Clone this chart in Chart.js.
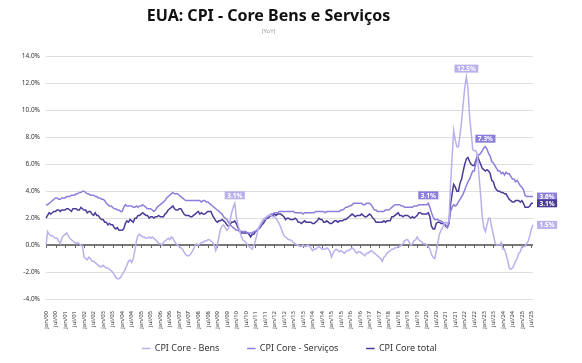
<!DOCTYPE html>
<html>
<head>
<meta charset="utf-8">
<script src="https://cdn.jsdelivr.net/npm/chart.js@4.4.1/dist/chart.umd.min.js"></script>
<style>
  html, body { margin: 0; padding: 0; background: #fff; }
  #wrap { width: 582px; height: 363px; }
</style>
</head>
<body>
<div id="wrap"><canvas id="myChart"></canvas></div>
<script>
// Monthly data, jan/2000 - ago/2025 (YoY, %)
const firstYear = 2000;
const monthNames = ['jan', 'fev', 'mar', 'abr', 'mai', 'jun', 'jul', 'ago', 'set', 'out', 'nov', 'dez'];

const coreGoods = [
    0.0, 1.0, 0.8, 0.7, 0.7, 0.6, 0.5, 0.5, 0.3, 0.1, 0.5, 0.7,        // 2000
    0.8, 0.9, 0.7, 0.5, 0.4, 0.3, 0.2, 0.1, 0.2, 0.1, 0.0, -0.1,       // 2001
    -0.9, -1.0, -1.1, -0.9, -1.0, -1.2, -1.2, -1.3, -1.4, -1.5, -1.6, -1.6, // 2002
    -1.5, -1.6, -1.7, -1.7, -1.8, -1.9, -2.0, -2.2, -2.4, -2.5, -2.5, -2.4, // 2003
    -2.2, -2.0, -1.8, -1.5, -1.2, -1.1, -1.3, -1.0, -0.4, 0.3, 0.7, 0.8,    // 2004
    0.7, 0.6, 0.6, 0.5, 0.5, 0.6, 0.5, 0.6, 0.5, 0.4, 0.3, 0.1,        // 2005
    0.1, 0.0, 0.2, 0.3, 0.4, 0.5, 0.4, 0.6, 0.5, 0.3, 0.1, 0.0,        // 2006
    -0.1, -0.2, -0.3, -0.5, -0.7, -0.8, -0.8, -0.7, -0.5, -0.3, 0.0, 0.1, // 2007
    0.0, 0.1, 0.2, 0.2, 0.3, 0.3, 0.4, 0.4, 0.3, 0.2, 0.0, -0.4,       // 2008
    0.0, 0.6, 1.2, 1.4, 1.5, 1.3, 1.1, 1.2, 1.8, 2.4, 2.8, 3.1,        // 2009
    2.1, 1.5, 1.1, 0.7, 0.4, 0.3, 0.2, 0.0, -0.1, -0.2, -0.3, 0.0,     // 2010
    0.3, 0.8, 1.3, 1.5, 1.7, 1.9, 2.0, 2.1, 2.2, 2.2, 2.2, 2.1,        // 2011
    2.1, 2.0, 1.8, 1.6, 1.3, 1.0, 0.7, 0.6, 0.5, 0.4, 0.4, 0.3,        // 2012
    0.2, 0.1, 0.0, 0.0, -0.1, -0.1, 0.0, -0.1, -0.1, 0.0, -0.1, -0.2,  // 2013
    -0.4, -0.3, -0.3, -0.2, -0.1, -0.2, -0.3, -0.3, -0.3, -0.2, -0.3, -0.5, // 2014
    -0.9, -0.6, -0.4, -0.3, -0.4, -0.5, -0.4, -0.5, -0.6, -0.5, -0.4, -0.4, // 2015
    -0.3, -0.2, -0.3, -0.5, -0.6, -0.5, -0.5, -0.6, -0.7, -0.8, -0.6, -0.6, // 2016
    -0.5, -0.4, -0.5, -0.6, -0.7, -0.8, -0.9, -1.0, -1.2, -0.9, -0.8, -0.6, // 2017
    -0.5, -0.4, -0.3, -0.3, -0.2, -0.2, -0.1, -0.1, 0.0, 0.1, 0.3, 0.4,     // 2018
    0.4, 0.2, 0.0, 0.1, 0.3, 0.4, 0.6, 0.4, 0.3, 0.2, 0.1, 0.1,        // 2019
    0.0, -0.1, -0.3, -0.7, -0.9, -1.0, -0.5, 0.2, 0.8, 1.1, 1.3, 1.6,  // 2020
    1.7, 1.6, 1.8, 4.4, 6.5, 8.5, 7.8, 7.3, 7.3, 8.2, 9.2, 10.5,       // 2021
    11.7, 12.5, 11.6, 9.6, 8.4, 7.1, 7.0, 7.0, 6.6, 5.1, 3.7, 2.1,     // 2022
    1.3, 1.0, 1.5, 2.0, 2.0, 1.3, 0.8, 0.2, 0.0, 0.0, 0.0, 0.2,        // 2023
    -0.3, -0.3, -0.7, -1.1, -1.7, -1.8, -1.7, -1.5, -1.2, -1.0, -0.6, -0.5, // 2024
    -0.1, -0.1, -0.1, 0.1, 0.3, 0.7, 1.2, 1.5                          // 2025
];

const coreServices = [
    3.0, 3.0, 3.1, 3.2, 3.3, 3.4, 3.5, 3.5, 3.4, 3.4, 3.5, 3.5,  // 2000
    3.5, 3.6, 3.6, 3.6, 3.7, 3.7, 3.7, 3.8, 3.8, 3.9, 3.9, 4.0,  // 2001
    4.0, 3.9, 3.8, 3.8, 3.7, 3.7, 3.7, 3.6, 3.6, 3.5, 3.5, 3.4,  // 2002
    3.4, 3.3, 3.1, 3.0, 2.9, 2.9, 2.8, 2.7, 2.7, 2.6, 2.6, 2.5,  // 2003
    2.5, 2.8, 3.0, 2.9, 2.9, 2.9, 2.9, 2.8, 2.8, 2.9, 2.8, 2.9,  // 2004
    2.9, 3.0, 2.9, 2.8, 2.7, 2.7, 2.7, 2.6, 2.5, 2.6, 2.8, 2.9,  // 2005
    3.0, 3.1, 3.2, 3.3, 3.5, 3.6, 3.7, 3.8, 3.9, 3.8, 3.8, 3.8,  // 2006
    3.7, 3.6, 3.5, 3.4, 3.3, 3.3, 3.3, 3.3, 3.3, 3.3, 3.3, 3.3,  // 2007
    3.3, 3.3, 3.2, 3.3, 3.3, 3.2, 3.2, 3.1, 3.0, 2.9, 2.8, 2.7,  // 2008
    2.6, 2.5, 2.4, 2.3, 2.1, 2.0, 1.9, 1.7, 1.5, 1.4, 1.3, 1.2,  // 2009
    1.1, 1.1, 1.0, 1.0, 1.0, 1.0, 1.0, 0.9, 0.9, 0.9, 0.9, 1.0,  // 2010
    1.0, 1.1, 1.2, 1.4, 1.6, 1.8, 1.9, 2.0, 2.1, 2.2, 2.3, 2.3,  // 2011
    2.4, 2.4, 2.4, 2.5, 2.5, 2.5, 2.5, 2.5, 2.5, 2.5, 2.5, 2.5,  // 2012
    2.5, 2.4, 2.4, 2.4, 2.4, 2.4, 2.3, 2.4, 2.4, 2.4, 2.4, 2.4,  // 2013
    2.4, 2.4, 2.5, 2.5, 2.5, 2.5, 2.5, 2.5, 2.4, 2.5, 2.5, 2.5,  // 2014
    2.5, 2.5, 2.5, 2.5, 2.5, 2.5, 2.6, 2.6, 2.7, 2.8, 2.8, 2.9,  // 2015
    2.9, 3.0, 3.1, 3.1, 3.1, 3.1, 3.1, 3.1, 3.0, 3.0, 3.1, 3.1,  // 2016
    3.1, 3.0, 2.8, 2.6, 2.6, 2.5, 2.5, 2.5, 2.5, 2.5, 2.6, 2.6,  // 2017
    2.6, 2.7, 2.8, 2.9, 3.0, 3.0, 3.0, 3.0, 2.9, 2.9, 2.8, 2.8,  // 2018
    2.8, 2.8, 2.8, 2.8, 2.9, 2.9, 2.9, 3.0, 3.0, 3.0, 3.0, 3.0,  // 2019
    3.0, 3.1, 2.8, 2.4, 2.1, 1.9, 1.9, 1.9, 1.8, 1.8, 1.7, 1.6,  // 2020
    1.5, 1.3, 1.6, 2.5, 2.8, 3.0, 2.9, 3.0, 3.2, 3.4, 3.6, 3.8,  // 2021
    4.1, 4.4, 4.7, 4.9, 5.2, 5.5, 5.5, 6.1, 6.7, 6.7, 6.8, 7.0,  // 2022
    7.2, 7.3, 7.1, 6.8, 6.6, 6.2, 6.1, 5.9, 5.7, 5.5, 5.5, 5.3,  // 2023
    5.4, 5.2, 5.4, 5.3, 5.3, 5.1, 4.9, 4.9, 4.7, 4.8, 4.6, 4.4,  // 2024
    4.3, 4.1, 3.7, 3.6, 3.6, 3.6, 3.6, 3.6                       // 2025
];

const coreTotal = [
    2.0, 2.2, 2.4, 2.3, 2.4, 2.5, 2.5, 2.6, 2.6, 2.5, 2.6, 2.6,  // 2000
    2.6, 2.7, 2.7, 2.6, 2.5, 2.7, 2.7, 2.7, 2.6, 2.6, 2.8, 2.7,  // 2001
    2.6, 2.6, 2.4, 2.5, 2.5, 2.3, 2.2, 2.4, 2.2, 2.2, 2.0, 1.9,  // 2002
    1.9, 1.7, 1.7, 1.5, 1.6, 1.5, 1.5, 1.3, 1.2, 1.3, 1.1, 1.1,  // 2003
    1.1, 1.2, 1.6, 1.8, 1.7, 1.9, 1.8, 1.7, 2.0, 2.0, 2.2, 2.2,  // 2004
    2.3, 2.4, 2.3, 2.2, 2.2, 2.0, 2.1, 2.1, 2.0, 2.1, 2.1, 2.2,  // 2005
    2.1, 2.1, 2.1, 2.3, 2.4, 2.6, 2.7, 2.8, 2.9, 2.7, 2.6, 2.6,  // 2006
    2.7, 2.7, 2.5, 2.3, 2.2, 2.2, 2.2, 2.1, 2.1, 2.2, 2.3, 2.4,  // 2007
    2.5, 2.3, 2.4, 2.3, 2.3, 2.4, 2.5, 2.5, 2.5, 2.2, 2.0, 1.8,  // 2008
    1.7, 1.8, 1.8, 1.9, 1.8, 1.7, 1.5, 1.4, 1.5, 1.7, 1.7, 1.8,  // 2009
    1.6, 1.3, 1.1, 0.9, 0.9, 0.9, 0.9, 0.9, 0.8, 0.6, 0.8, 0.8,  // 2010
    1.0, 1.1, 1.2, 1.3, 1.5, 1.6, 1.8, 2.0, 2.0, 2.1, 2.2, 2.2,  // 2011
    2.3, 2.2, 2.3, 2.3, 2.3, 2.2, 2.1, 1.9, 2.0, 2.0, 1.9, 1.9,  // 2012
    1.9, 2.0, 1.9, 1.7, 1.7, 1.6, 1.7, 1.8, 1.7, 1.7, 1.7, 1.7,  // 2013
    1.6, 1.6, 1.7, 1.8, 2.0, 1.9, 1.9, 1.7, 1.7, 1.8, 1.7, 1.6,  // 2014
    1.6, 1.7, 1.8, 1.8, 1.7, 1.8, 1.8, 1.8, 1.9, 1.9, 2.0, 2.1,  // 2015
    2.2, 2.3, 2.2, 2.1, 2.2, 2.2, 2.2, 2.3, 2.2, 2.1, 2.1, 2.2,  // 2016
    2.3, 2.2, 2.0, 1.9, 1.7, 1.7, 1.7, 1.7, 1.7, 1.8, 1.7, 1.8,  // 2017
    1.8, 1.8, 2.1, 2.1, 2.2, 2.3, 2.4, 2.2, 2.2, 2.1, 2.2, 2.2,  // 2018
    2.2, 2.1, 2.0, 2.1, 2.0, 2.1, 2.2, 2.4, 2.4, 2.3, 2.3, 2.3,  // 2019
    2.3, 2.4, 2.1, 1.4, 1.2, 1.2, 1.6, 1.7, 1.7, 1.6, 1.6, 1.6,  // 2020
    1.4, 1.3, 1.6, 3.0, 3.8, 4.5, 4.3, 4.0, 4.0, 4.6, 4.9, 5.5,  // 2021
    6.0, 6.4, 6.5, 6.2, 6.0, 5.9, 5.9, 6.3, 6.6, 6.3, 6.0, 5.7,  // 2022
    5.6, 5.5, 5.6, 5.5, 5.3, 4.8, 4.7, 4.3, 4.1, 4.0, 4.0, 3.9,  // 2023
    3.9, 3.8, 3.8, 3.6, 3.4, 3.3, 3.2, 3.2, 3.3, 3.3, 3.3, 3.2,  // 2024
    3.3, 3.1, 2.8, 2.8, 2.8, 2.9, 3.1, 3.1                       // 2025
];

// Highlighted points (index in the monthly arrays)
const goodsMarks = [119, 265, 307];
const servicesMarks = [241, 277, 307];
const totalMarks = [307];

// y axis: -4% .. 14%
const yMin = -4, yMax = 14, yStep = 2;

// Month labels (jan/00 ...)
const labels = coreTotal.map((v, i) => {
    const y = firstYear + Math.floor(i / 12);
    return monthNames[i % 12] + '/' + String(y).slice(2);
});

const colGoods = '#b9b0ec';
const colServices = '#8c7fdb';
const colTotal = '#4a3b99';
const fontFam = "'Noto Sans', 'DejaVu Sans', sans-serif";

// Tick marks on the zero line, every 6 months
const zeroTicks = {
    id: 'zeroTicks',
    beforeDatasetsDraw(chart) {
        const x = chart.scales.x, y = chart.scales.y;
        const y0 = y.getPixelForValue(0);
        const ctx = chart.ctx;
        ctx.save();
        ctx.strokeStyle = '#666';
        ctx.lineWidth = 1;
        ctx.beginPath();
        for (let i = 0; i < labels.length; i += 6) {
            const px = Math.round(x.getPixelForValue(i)) + 0.5;
            ctx.moveTo(px, y0);
            ctx.lineTo(px, y0 + 3);
        }
        ctx.stroke();
        ctx.restore();
    }
};

// Value boxes at selected points
const valueBoxes = {
    id: 'valueBoxes',
    afterDatasetsDraw(chart) {
        const ctx = chart.ctx;
        const last = labels.length - 1;
        ctx.save();
        ctx.font = 'bold 6.5px ' + fontFam;
        ctx.textBaseline = 'middle';
        ctx.textAlign = 'center';
        chart.data.datasets.forEach((ds, di) => {
            const meta = chart.getDatasetMeta(di);
            ds.marks.forEach(idx => {
                const pt = meta.data[idx];
                const txt = ds.data[idx].toFixed(1) + '%';
                const w = ctx.measureText(txt).width + 5;
                const h = 8;
                let cx, cy;
                if (idx === last) {
                    cx = pt.x + 4 + w / 2;
                    cy = pt.y;
                } else {
                    cx = pt.x;
                    cy = pt.y - 4 - h / 2;
                }
                ctx.fillStyle = ds.borderColor;
                ctx.fillRect(cx - w / 2, cy - h / 2, w, h);
                ctx.fillStyle = '#fff';
                ctx.fillText(txt, cx, cy + 0.5);
            });
        });
        ctx.restore();
    }
};

let myChart;

function createChart() {
    const ctx = document.getElementById('myChart').getContext('2d');
    myChart = new Chart(ctx, {
        type: 'line',
        data: {
            labels: labels,
            datasets: [
                { label: 'CPI Core - Bens', data: coreGoods, marks: goodsMarks, borderColor: colGoods, backgroundColor: colGoods },
                { label: 'CPI Core - Serviços', data: coreServices, marks: servicesMarks, borderColor: colServices, backgroundColor: colServices },
                { label: 'CPI Core total', data: coreTotal, marks: totalMarks, borderColor: colTotal, backgroundColor: colTotal }
            ]
        },
        options: {
            responsive: true,
            maintainAspectRatio: false,
            animation: false,
            datasets: {
                line: { borderWidth: 1.5, pointRadius: 0, tension: 0 }
            },
            layout: { padding: { left: 4, right: 49, bottom: 0 } },
            plugins: {
                title: {
                    display: true,
                    text: 'EUA: CPI - Core Bens e Serviços',
                    color: '#111',
                    font: { family: fontFam, size: 16, weight: 'bold' },
                    padding: { top: 7, bottom: 0 }
                },
                subtitle: {
                    display: true,
                    text: '(YoY)',
                    color: '#999',
                    font: { family: fontFam, size: 6 },
                    padding: { top: 1, bottom: 22 }
                },
                legend: {
                    position: 'bottom',
                    fullSize: false,
                    labels: {
                        usePointStyle: true,
                        pointStyle: 'line',
                        boxWidth: 8,
                        boxHeight: 6,
                        color: '#333',
                        font: { family: fontFam, size: 9 },
                        padding: 10,
                        generateLabels: chart => {
                            const items = Chart.defaults.plugins.legend.labels.generateLabels(chart);
                            items.forEach((it, i) => {
                                if (i < items.length - 1) it.text = it.text + '\u2002\u2002\u2002\u2002';
                            });
                            return items;
                        }
                    }
                },
                tooltip: { enabled: false }
            },
            scales: {
                x: {
                    grid: { display: false },
                    border: { display: false },
                    afterFit: scale => { scale.height = 35; },
                    ticks: {
                        autoSkip: false,
                        maxRotation: 90,
                        minRotation: 90,
                        color: '#333',
                        padding: 4,
                        font: { family: fontFam, size: 6 },
                        callback: function (val, i) { return i % 6 === 0 ? labels[i] : null; }
                    }
                },
                y: {
                    min: yMin,
                    max: yMax,
                    border: { display: false },
                    afterFit: scale => { scale.width = 42; },
                    grid: {
                        drawTicks: false,
                        color: c => c.tick.value === 0 ? '#777' : '#dedede',
                        lineWidth: c => c.tick.value === 0 ? 2 : 1
                    },
                    ticks: {
                        stepSize: yStep,
                        color: '#333',
                        padding: 6,
                        font: { family: fontFam, size: 6.5 },
                        callback: v => v.toFixed(1) + '%'
                    }
                }
            }
        },
        plugins: [zeroTicks, valueBoxes]
    });
}

document.addEventListener('DOMContentLoaded', () => {
    createChart();
});
</script>
</body>
</html>
